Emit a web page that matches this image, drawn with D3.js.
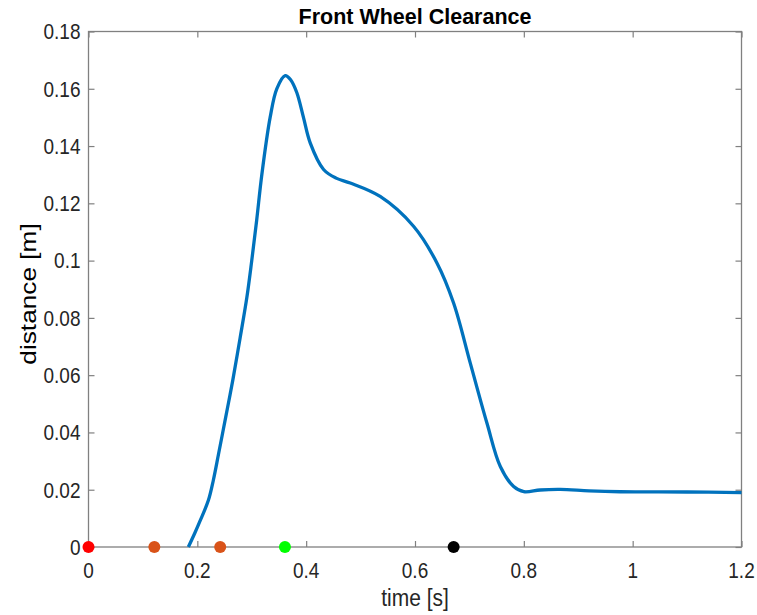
<!DOCTYPE html>
<html>
<head>
<meta charset="utf-8">
<script src="https://cdn.jsdelivr.net/npm/d3@7"></script>
<style>
  body { margin: 0; background: #fff; }
  text { font-family: "Liberation Sans", Arial, sans-serif; }
</style>
</head>
<body>
<div id="chart"></div>
<script>
// curve samples
const time = [0.1835, 0.195, 0.205, 0.2203, 0.2295, 0.2387, 0.2479, 0.2571, 0.2651, 0.2786, 0.2909, 0.300, 0.309, 0.3185, 0.3338, 0.346, 0.3614, 0.372, 0.3829, 0.395, 0.4074, 0.432, 0.455, 0.481, 0.536, 0.5973, 0.6403, 0.6709, 0.7016, 0.7323, 0.7568, 0.7813, 0.80, 0.83, 0.867, 0.92, 0.977, 1.1, 1.2];
const distance = [0, 0.0047, 0.0091, 0.0163, 0.0234, 0.0322, 0.0412, 0.0502, 0.0582, 0.073, 0.087, 0.100, 0.114, 0.130, 0.150, 0.160, 0.1646, 0.1630, 0.1586, 0.150, 0.1411, 0.1318, 0.1288, 0.1271, 0.1224, 0.112, 0.0992, 0.0852, 0.0642, 0.0432, 0.0281, 0.0211, 0.0193, 0.0199, 0.0201, 0.0196, 0.0193, 0.0192, 0.019];

// event markers on the time axis
const markerTime = [0, 0.121, 0.242, 0.361, 0.671];
const markerColor = ["#ff0000", "#d95319", "#d95319", "#00ff00", "#000000"];

const xTicks = [0, 0.2, 0.4, 0.6, 0.8, 1, 1.2];
const yTicks = [0, 0.02, 0.04, 0.06, 0.08, 0.1, 0.12, 0.14, 0.16, 0.18];

const W = 757, H = 615;
const margin = {top: 31.5, right: 15.5, bottom: 68, left: 88.5};
const width = W - margin.left - margin.right;
const height = H - margin.top - margin.bottom;
const stretch = 1.15; // the picture's text is a bit taller than wide

const svg = d3.select("#chart").append("svg")
    .attr("width", W)
    .attr("height", H);

const g = svg.append("g")
    .attr("transform", "translate(" + margin.left + "," + margin.top + ")");

const x = d3.scaleLinear().domain([0, 1.2]).range([0, width]);
const y = d3.scaleLinear().domain([0, 0.18]).range([height, 0]);

const fmt = d3.format("~g");
const axisColor = "#808080";
const textColor = "#262626";

function styleAxis(sel) {
    sel.select(".domain").remove();
    sel.selectAll(".tick line").attr("stroke", axisColor).attr("stroke-width", 1.2);
    sel.selectAll(".tick text").remove();
}

// inward ticks on all four sides
g.append("g")
    .attr("transform", "translate(0," + height + ")")
    .call(d3.axisBottom(x).tickValues(xTicks).tickSizeInner(-6).tickSizeOuter(0))
    .call(styleAxis);
g.append("g")
    .call(d3.axisLeft(y).tickValues(yTicks).tickSizeInner(-6).tickSizeOuter(0))
    .call(styleAxis);
g.append("g")
    .call(d3.axisTop(x).tickValues(xTicks).tickSizeInner(-6).tickSizeOuter(0))
    .call(styleAxis);
g.append("g")
    .attr("transform", "translate(" + width + ",0)")
    .call(d3.axisRight(y).tickValues(yTicks).tickSizeInner(-6).tickSizeOuter(0))
    .call(styleAxis);

// tick labels
g.selectAll(".xlab")
    .data(xTicks)
    .enter()
    .append("text")
    .attr("class", "xlab")
    .attr("transform", d => "translate(" + x(d) + "," + (height + 31) + ") scale(1," + stretch + ")")
    .attr("text-anchor", "middle")
    .attr("fill", textColor)
    .style("font-size", "19px")
    .text(fmt);

g.selectAll(".ylab")
    .data(yTicks)
    .enter()
    .append("text")
    .attr("class", "ylab")
    .attr("transform", d => "translate(-8," + (y(d) + 7.8) + ") scale(1," + stretch + ")")
    .attr("text-anchor", "end")
    .attr("fill", textColor)
    .style("font-size", "19px")
    .text(fmt);

// box
g.append("rect")
    .attr("width", width)
    .attr("height", height)
    .attr("fill", "none")
    .attr("stroke", axisColor)
    .attr("stroke-width", 1.3);

// clearance curve
const pts = time.map((t, i) => [t, distance[i]]);
const line = d3.line()
    .x(d => x(d[0]))
    .y(d => y(d[1]))
    .curve(d3.curveCatmullRom.alpha(0.5));

g.append("path")
    .attr("d", line(pts))
    .attr("fill", "none")
    .attr("stroke", "#0072bd")
    .attr("stroke-width", 3.3)
    .attr("stroke-linejoin", "round");

// markers
g.selectAll(".marker")
    .data(markerTime)
    .enter()
    .append("circle")
    .attr("class", "marker")
    .attr("cx", d => x(d))
    .attr("cy", y(0))
    .attr("r", 6)
    .attr("fill", (d, i) => markerColor[i]);

// title and labels
svg.append("text")
    .attr("transform", "translate(" + (margin.left + width / 2) + ",24)")
    .attr("text-anchor", "middle")
    .attr("fill", "#000")
    .style("font-size", "21.5px")
    .style("font-weight", "bold")
    .text("Front Wheel Clearance");

svg.append("text")
    .attr("transform", "translate(" + (margin.left + width / 2) + ",606) scale(1," + stretch + ")")
    .attr("text-anchor", "middle")
    .attr("fill", textColor)
    .style("font-size", "21px")
    .text("time [s]");

svg.append("text")
    .attr("transform", "translate(36,294) rotate(-90) scale(1.22,1)")
    .attr("text-anchor", "middle")
    .attr("fill", "#000")
    .style("font-size", "21.5px")
    .text("distance [m]");
</script>
</body>
</html>
